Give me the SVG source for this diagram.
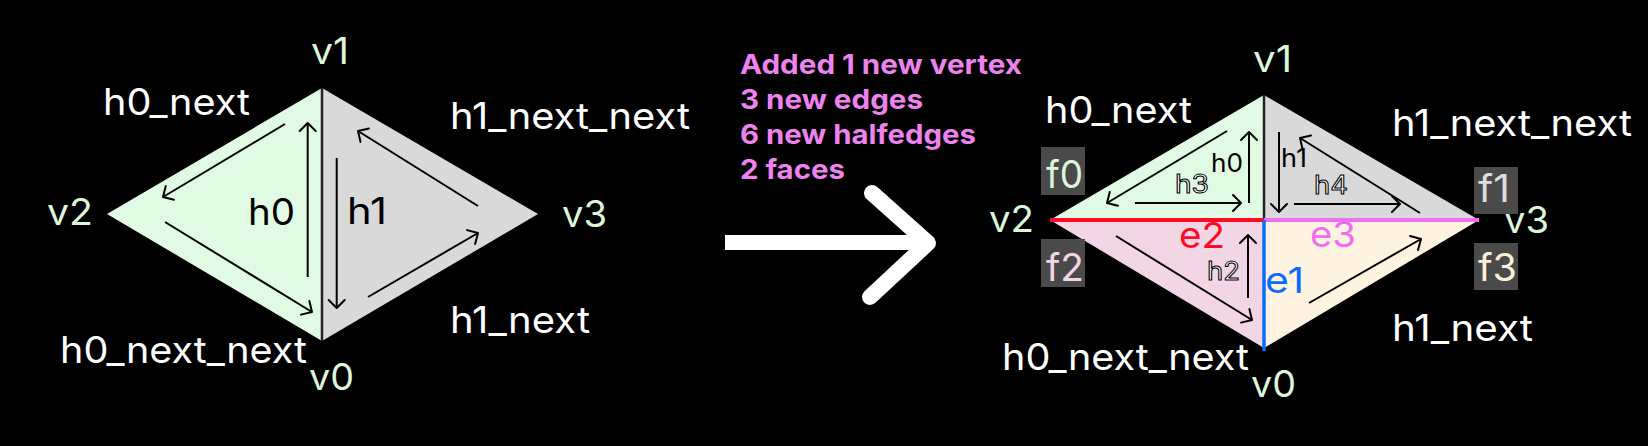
<svg xmlns="http://www.w3.org/2000/svg" width="1648" height="446" viewBox="0 0 1648 446">
<style>
text{font-family:Inter,"Liberation Sans",sans-serif}
.lbl{fill:#ffffff;font-size:37px}
.vx{fill:#dcf6dc;font-size:37px}
.blk{fill:#000;font-size:37px}
.sm{fill:#000;font-size:25px}
.out{fill:#fff;stroke:#000;stroke-width:1;font-size:25px}
.note{fill:#ee82ee;font-size:27px;font-weight:700}
.fl{font-size:38px}
.ed{font-size:36px}
.he{fill:none;stroke:#000;stroke-width:2;marker-end:url(#ah)}
.fbox{fill:#4a4a4a}
</style>
<defs>
<marker id="ah" markerUnits="userSpaceOnUse" viewBox="-11 -10 13 20" markerWidth="13" markerHeight="20" refX="0" refY="0" orient="auto">
<path d="M-8,-8 L0,0 L-8,8" fill="none" stroke="#000" stroke-width="2" stroke-linecap="round" stroke-linejoin="round"/>
</marker>
</defs>
<rect x="0" y="0" width="1648" height="446" fill="#000"/>

<g id="left-mesh">
<polygon points="107,214 322,88 322,341" fill="#e1fae3"/>
<polygon points="322,88 538,214 322,341" fill="#d9d9d9"/>
<line x1="322" y1="88" x2="322" y2="341" stroke="#222" stroke-width="2.5"/>
</g>

<g id="left-labels">
<text class="vx" x="311" y="64" textLength="38" lengthAdjust="spacingAndGlyphs">v1</text>
<text class="lbl" x="103" y="115" textLength="147" lengthAdjust="spacingAndGlyphs">h0_next</text>
<text class="lbl" x="450" y="129" textLength="240" lengthAdjust="spacingAndGlyphs">h1_next_next</text>
<text class="vx" x="47" y="225" textLength="46" lengthAdjust="spacingAndGlyphs">v2</text>
<text class="blk" x="248" y="225" textLength="47" lengthAdjust="spacingAndGlyphs">h0</text>
<text class="blk" x="347" y="224" textLength="40" lengthAdjust="spacingAndGlyphs">h1</text>
<text class="vx" x="562" y="227" textLength="45" lengthAdjust="spacingAndGlyphs">v3</text>
<text class="lbl" x="60" y="363" textLength="247" lengthAdjust="spacingAndGlyphs">h0_next_next</text>
<text class="lbl" x="450" y="333" textLength="140" lengthAdjust="spacingAndGlyphs">h1_next</text>
<text class="vx" x="309" y="390" textLength="45" lengthAdjust="spacingAndGlyphs">v0</text>
</g>

<g id="note">
<text class="note" x="740" y="74" textLength="282" lengthAdjust="spacingAndGlyphs">Added 1 new vertex</text>
<text class="note" x="740" y="109" textLength="183" lengthAdjust="spacingAndGlyphs">3 new edges</text>
<text class="note" x="740" y="144" textLength="236" lengthAdjust="spacingAndGlyphs">6 new halfedges</text>
<text class="note" x="740" y="179" textLength="105" lengthAdjust="spacingAndGlyphs">2 faces</text>
</g>

<g id="big-arrow">
<rect x="725" y="235" width="200" height="15" fill="#fff"/>
<polyline points="872,193 928,243 870,297" fill="none" stroke="#fff" stroke-width="16" stroke-linecap="round" stroke-linejoin="round"/>
</g>

<g id="right-mesh">
<polygon points="1050,220 1264,95 1264,220" fill="#e1fae3"/>
<polygon points="1264,95 1479,220 1264,220" fill="#d9d9d9"/>
<polygon points="1050,220 1264,220 1264,348" fill="#f3d6e6"/>
<polygon points="1264,220 1479,220 1264,348" fill="#fef3e1"/>
<line x1="1264" y1="95" x2="1264" y2="220" stroke="#222" stroke-width="2.5"/>
</g>

<g id="edges">
<line id="e2-line" x1="1050" y1="220" x2="1264" y2="220" stroke="#ff0a24" stroke-width="4"/>
<line id="e3-line" x1="1264" y1="220" x2="1479" y2="220" stroke="#ee6eee" stroke-width="4"/>
<line id="e1-line" x1="1264" y1="220" x2="1264" y2="351" stroke="#0a6cff" stroke-width="3.5"/>
</g>

<g id="connectors">
<line class="he" x1="307.7" y1="277" x2="307.7" y2="123"/>
<line class="he" x1="336.7" y1="158" x2="336.7" y2="308"/>
<line class="he" x1="285" y1="124" x2="163" y2="197"/>
<line class="he" x1="165" y1="222" x2="312" y2="312"/>
<line class="he" x1="368" y1="297" x2="478" y2="233"/>
<line class="he" x1="478" y1="206" x2="358" y2="131"/>

<line class="he" x1="1249" y1="203" x2="1249" y2="132"/>
<line class="he" x1="1227" y1="131" x2="1107" y2="203"/>
<line class="he" x1="1135" y1="203" x2="1241" y2="203"/>
<line class="he" x1="1248" y1="298" x2="1248" y2="235"/>
<line class="he" x1="1116" y1="236" x2="1252" y2="320"/>
<line class="he" x1="1279" y1="132" x2="1279" y2="212"/>
<line class="he" x1="1294" y1="204" x2="1400" y2="204"/>
<line class="he" x1="1420" y1="213" x2="1300" y2="138"/>
<line class="he" x1="1309" y1="303" x2="1421" y2="239"/>
</g>

<g id="right-labels">
<text class="vx" x="1253" y="72" textLength="39" lengthAdjust="spacingAndGlyphs">v1</text>
<text class="lbl" x="1045" y="123" textLength="147" lengthAdjust="spacingAndGlyphs">h0_next</text>
<text class="lbl" x="1392" y="136" textLength="240" lengthAdjust="spacingAndGlyphs">h1_next_next</text>
<text class="vx" x="989" y="232" textLength="45" lengthAdjust="spacingAndGlyphs">v2</text>
<text class="vx" x="1504" y="233" textLength="45" lengthAdjust="spacingAndGlyphs">v3</text>
<text class="lbl" x="1002" y="370" textLength="247" lengthAdjust="spacingAndGlyphs">h0_next_next</text>
<text class="lbl" x="1392" y="341" textLength="141" lengthAdjust="spacingAndGlyphs">h1_next</text>
<text class="vx" x="1251" y="397" textLength="45" lengthAdjust="spacingAndGlyphs">v0</text>
<text class="sm" x="1211" y="172" textLength="32" lengthAdjust="spacingAndGlyphs">h0</text>
<text class="sm" x="1281" y="167" textLength="26" lengthAdjust="spacingAndGlyphs">h1</text>
<text class="out" x="1175" y="193" textLength="34" lengthAdjust="spacingAndGlyphs">h3</text>
<text class="out" x="1314" y="194" textLength="34" lengthAdjust="spacingAndGlyphs">h4</text>
<text class="out" x="1207" y="280" textLength="33" lengthAdjust="spacingAndGlyphs">h2</text>
<text class="ed" x="1179" y="248" fill="#ff0a24" textLength="46" lengthAdjust="spacingAndGlyphs">e2</text>
<text class="ed" x="1310" y="247" fill="#ee6eee" textLength="46" lengthAdjust="spacingAndGlyphs">e3</text>
<text class="ed" x="1265" y="293" fill="#0a6cff" textLength="39" lengthAdjust="spacingAndGlyphs">e1</text>
</g>

<g id="f0"><rect class="fbox" x="1041" y="147" width="44" height="48"/><text class="fl" x="1046" y="188" fill="#dcf6dc" textLength="37" lengthAdjust="spacingAndGlyphs">f0</text></g>
<g id="f2"><rect class="fbox" x="1041" y="239" width="44" height="48"/><text class="fl" x="1046" y="281" fill="#f3d6e6" textLength="38" lengthAdjust="spacingAndGlyphs">f2</text></g>
<g id="f1"><rect class="fbox" x="1474" y="167" width="44" height="47"/><text class="fl" x="1478" y="202" fill="#dddddd" textLength="32" lengthAdjust="spacingAndGlyphs">f1</text></g>
<g id="f3"><rect class="fbox" x="1474" y="243" width="44" height="47"/><text class="fl" x="1478" y="281" fill="#fcefd9" textLength="39" lengthAdjust="spacingAndGlyphs">f3</text></g>
</svg>
